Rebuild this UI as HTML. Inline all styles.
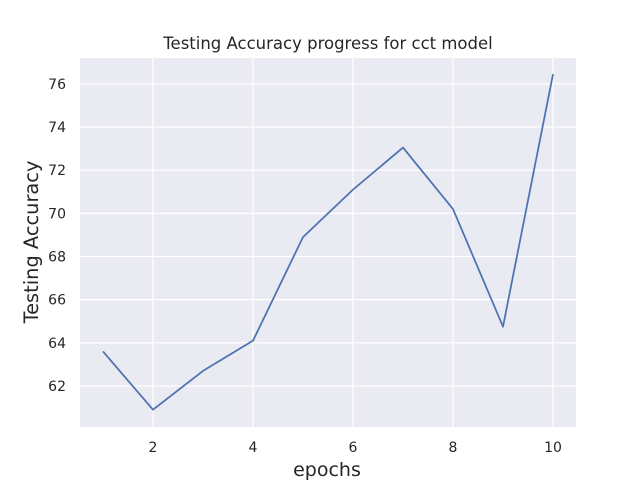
<!DOCTYPE html>
<html><head><meta charset="utf-8"><style>
body{margin:0;background:#fff;}
svg text{font-family:"DejaVu Sans","Liberation Sans",sans-serif;fill:#262626;}
</style></head><body>
<svg id="chart" width="640" height="480">
<rect width="640" height="480" fill="#fff"/>
<rect x="80" y="58" width="496" height="369" fill="#eaeaf2"/>
<g id="grid"></g>
<g id="ticks"></g>
<path id="line" fill="none" stroke="#4c72b0" stroke-width="1.75" stroke-linejoin="round"/>
<text x="328" y="49" font-size="16.5" text-anchor="middle">Testing Accuracy progress for cct model</text>
<text x="327" y="476" font-size="19" text-anchor="middle">epochs</text>
<text transform="translate(38,242) rotate(-90)" font-size="19.4" text-anchor="middle">Testing Accuracy</text>
</svg>
<script>
const epochs=[1,2,3,4,5,6,7,8,9,10];
const accuracy=[63.6,60.9,62.7,64.1,68.9,71.1,73.05,70.2,64.75,76.45];
const xTicks=[2,4,6,8,10];
const yTicks=[62,64,66,68,70,72,74,76];
const L=80,R=576,T=58,B=427,xmin=0.54,xmax=10.46,ymin=60.1,ymax=77.2;
const sx=v=>L+(v-xmin)/(xmax-xmin)*(R-L);
const sy=v=>B-(v-ymin)/(ymax-ymin)*(B-T);
const ns="http://www.w3.org/2000/svg";
const grid=document.getElementById('grid'),ticks=document.getElementById('ticks');
function mk(tag,a,p){const e=document.createElementNS(ns,tag);for(const k in a)e.setAttribute(k,a[k]);p.appendChild(e);return e;}
xTicks.forEach(t=>{
 const l=mk('line',{x1:sx(t),x2:sx(t),y1:T,y2:B,stroke:'#fff','stroke-width':1.25},grid);
 
 
 const tx=mk('text',{x:sx(t),y:B+25,'font-size':14,'text-anchor':'middle'},ticks);tx.textContent=t;
 
 
});
yTicks.forEach(t=>{
 const l=mk('line',{x1:L,x2:R,y1:sy(t),y2:sy(t),stroke:'#fff','stroke-width':1.25},grid);
 
 
 const tx=mk('text',{x:L-14,y:sy(t)+5,'font-size':14,'text-anchor':'end'},ticks);tx.textContent=t;
 
 
});
document.getElementById('line').setAttribute('d',epochs.map((e,i)=>(i?'L':'M')+sx(e)+','+sy(accuracy[i])).join(''));
</script>
</body></html>
